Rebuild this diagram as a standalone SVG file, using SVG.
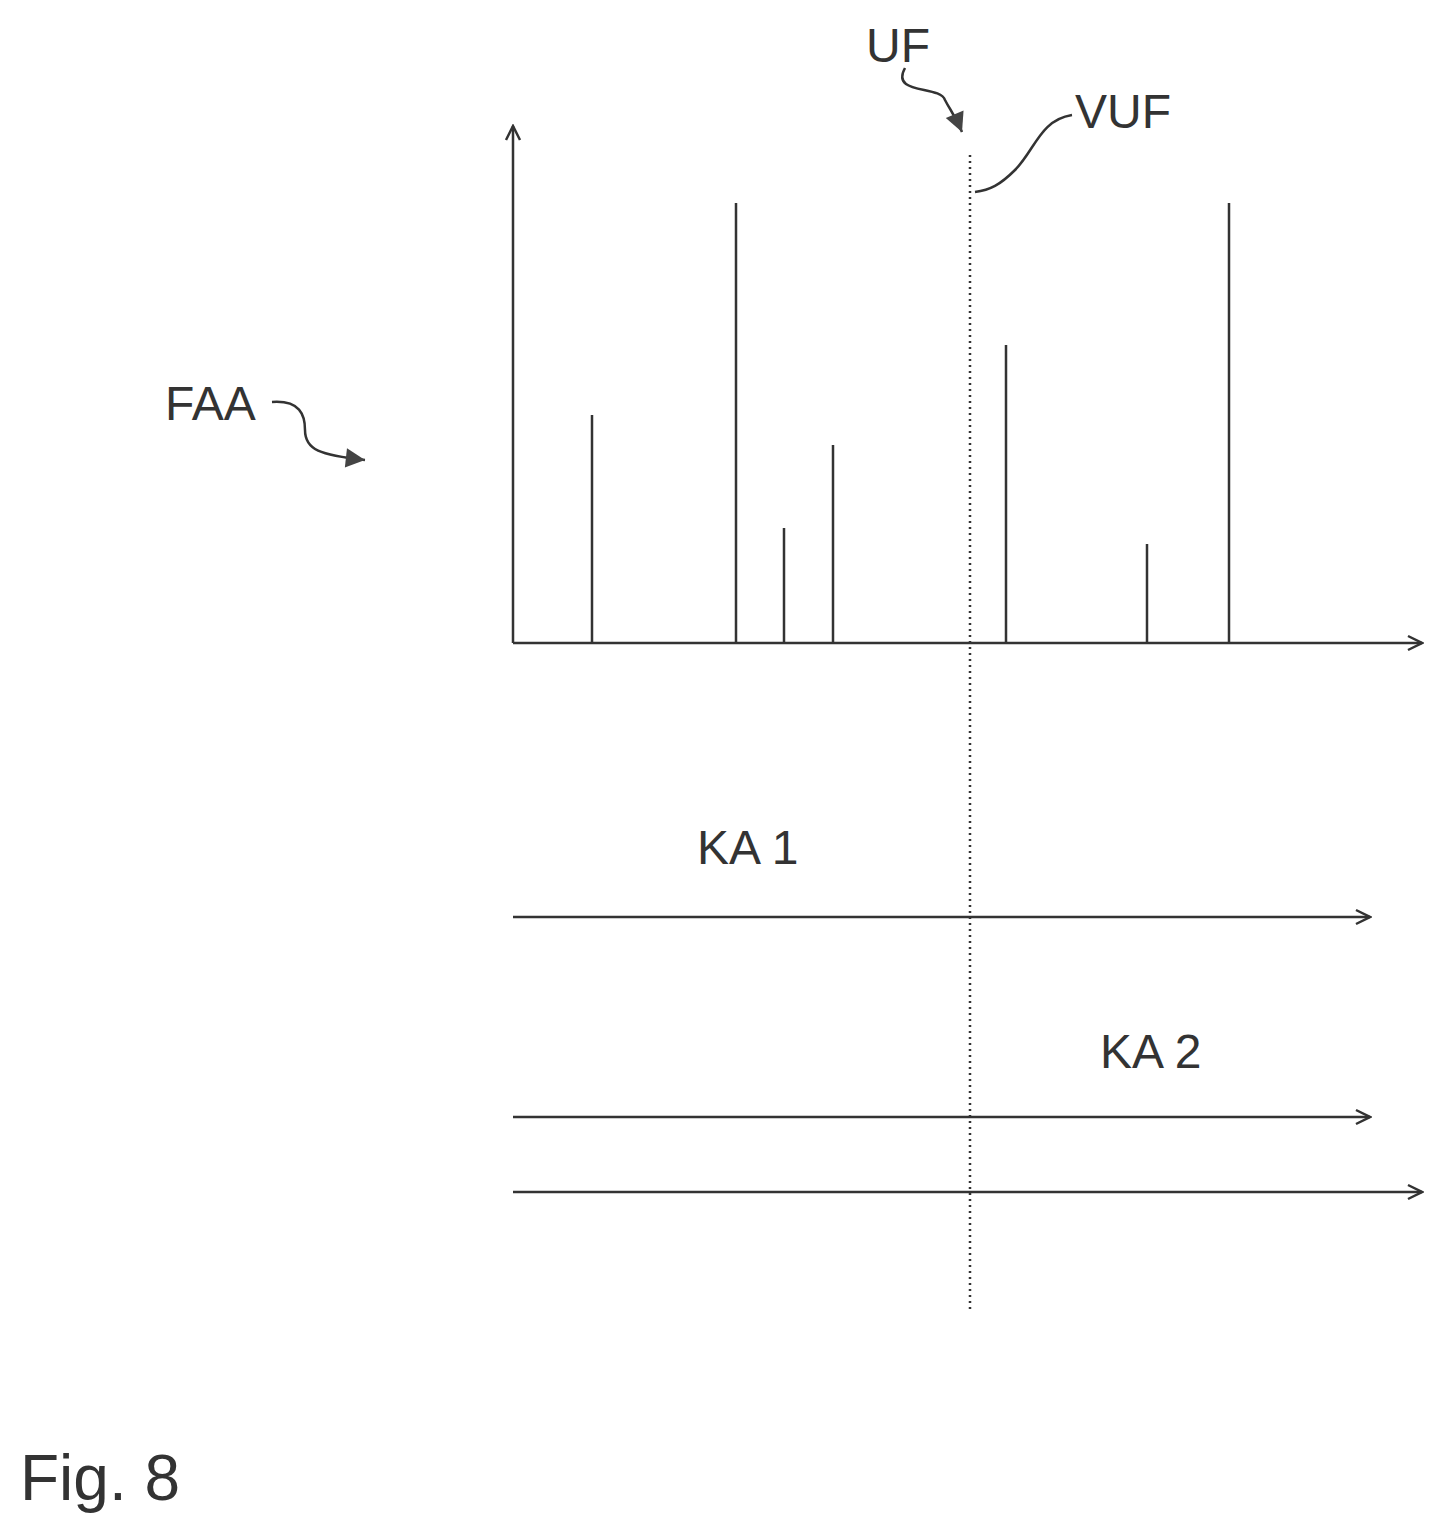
<svg xmlns="http://www.w3.org/2000/svg" width="1445" height="1534" viewBox="0 0 1445 1534">
<style>
.ln{stroke:#333;stroke-width:2.5;fill:none}
.dot{stroke:#333;stroke-width:2.5;stroke-dasharray:2 4;fill:none}
.t{font-family:"Liberation Sans",Arial,sans-serif;fill:#333;font-size:48px}
</style>
<defs>
<marker id="open" viewBox="0 0 20 20" refX="18" refY="10" markerWidth="20" markerHeight="20" markerUnits="userSpaceOnUse" orient="auto">
<path d="M4,3 L18,10 L4,17" fill="none" stroke="#333" stroke-width="2.5"/>
</marker>
<marker id="fill" viewBox="0 0 20 20" refX="18" refY="10" markerWidth="24" markerHeight="24" markerUnits="userSpaceOnUse" orient="auto">
<path d="M2,2 L18,10 L2,18 Z" fill="#444"/>
</marker>
</defs>
<g id="axes">
<line class="ln" x1="513" y1="643" x2="513" y2="126" marker-end="url(#open)"/>
<line class="ln" x1="513" y1="643" x2="1422" y2="643" marker-end="url(#open)"/>
</g>
<g id="bars">
<line class="ln" x1="592" y1="643" x2="592" y2="415"/>
<line class="ln" x1="736" y1="643" x2="736" y2="203"/>
<line class="ln" x1="784" y1="643" x2="784" y2="528"/>
<line class="ln" x1="833" y1="643" x2="833" y2="445"/>
<line class="ln" x1="1006" y1="643" x2="1006" y2="345"/>
<line class="ln" x1="1147" y1="643" x2="1147" y2="544"/>
<line class="ln" x1="1229" y1="643" x2="1229" y2="203"/>
</g>
<g id="VUF-line"><line class="dot" x1="970" y1="155" x2="970" y2="1312"/></g>
<g id="connectors">
<line class="ln" x1="513" y1="917" x2="1370" y2="917" marker-end="url(#open)"/>
<line class="ln" x1="513" y1="1117" x2="1370" y2="1117" marker-end="url(#open)"/>
<line class="ln" x1="513" y1="1192" x2="1422" y2="1192" marker-end="url(#open)"/>
<path class="ln" d="M905,68 C890,95 940,85 945,100 C950,110 955,115 962,132" marker-end="url(#fill)"/>
<path class="ln" d="M1072,115 C1040,120 1035,150 1015,170 C1000,185 990,190 975,192"/>
<path class="ln" d="M272,402 C300,400 305,415 305,430 C305,450 320,455 365,460" marker-end="url(#fill)"/>
</g>
<g id="labels">
<text class="t" x="866" y="62">UF</text>
<text class="t" x="1075" y="128">VUF</text>
<text class="t" x="165" y="420">FAA</text>
<text class="t" x="697" y="864">KA 1</text>
<text class="t" x="1100" y="1068">KA 2</text>
<text class="t" x="20" y="1500" style="font-size:64px">Fig. 8</text>
</g>
</svg>
